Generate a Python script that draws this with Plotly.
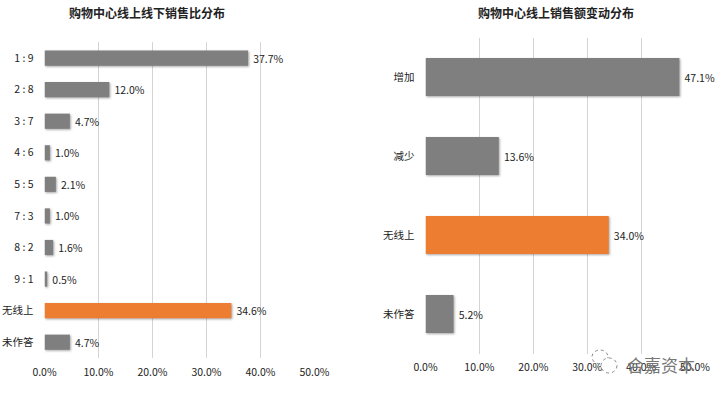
import plotly.graph_objects as go

FONT = "Noto Sans CJK SC, Open Sans, sans-serif"
GREY = "#7f7f7f"
ORANGE = "#ed7d31"
GRID = "#d4d4d4"
W, H = 720, 395

left_title = "购物中心线上线下销售比分布"
left_cats = ["1 : 9", "2 : 8", "3 : 7", "4 : 6", "5 : 5", "7 : 3", "8 : 2", "9 : 1", "无线上", "未作答"]
left_vals = [37.7, 12.0, 4.7, 1.0, 2.1, 1.0, 1.6, 0.5, 34.6, 4.7]
left_colors = [GREY] * 8 + [ORANGE, GREY]

right_title = "购物中心线上销售额变动分布"
right_cats = ["增加", "减少", "无线上", "未作答"]
right_vals = [47.1, 13.6, 34.0, 5.2]
right_colors = [GREY, GREY, ORANGE, GREY]

ticks = [0, 10, 20, 30, 40, 50]
tick_labels = ["0.0%", "10.0%", "20.0%", "30.0%", "40.0%", "50.0%"]
watermark = "合嘉资本"

fig = go.Figure()


def add(cats, vals, colors, xa, ya, width):
    fig.add_trace(go.Bar(
        y=cats, x=vals, orientation="h", xaxis=xa, yaxis=ya, width=width,
        marker=dict(color=colors, line=dict(width=0)),
        text=[f"\u2009{v:.1f}%" for v in vals], textposition="outside", cliponaxis=False,
        textfont=dict(size=10.5, color="#222222", family=FONT),
        showlegend=False,
    ))


add(left_cats, left_vals, left_colors, "x", "y", 0.48)
add(right_cats, right_vals, right_colors, "x2", "y2", 0.48)

xcommon = dict(range=[0, 50], tickvals=ticks, ticktext=tick_labels, showgrid=True, gridcolor=GRID,
               gridwidth=1, zeroline=False, showline=False, ticks="", automargin=False,
               ticklabelstandoff=6,
               tickfont=dict(size=10.5, color="#222222", family=FONT))
ycommon = dict(autorange="reversed", type="category", showgrid=False, zeroline=False,
               showline=False, ticks="", automargin=False, ticklabelstandoff=10,
               tickfont=dict(size=10.5, color="#222222", family=FONT))


def px(a, b):
    return [a / W, b / W]


def py(top, bottom):
    return [1 - bottom / H, 1 - top / H]


def note(text, x, y, size, color):
    return dict(text=text, x=x / W, y=1 - y / H, xref="paper", yref="paper", xanchor="center",
                yanchor="middle", showarrow=False, font=dict(size=size, color=color, family=FONT))


fig.update_layout(
    width=W, height=H, autosize=False, margin=dict(l=0, r=0, t=0, b=0),
    paper_bgcolor="white", plot_bgcolor="white", bargap=0.5,
    xaxis=dict(domain=px(44.5, 314.5), anchor="y", **xcommon),
    yaxis=dict(domain=py(42.3, 358), anchor="x", **ycommon),
    xaxis2=dict(domain=px(425.5, 695), anchor="y2", **xcommon),
    yaxis2=dict(domain=py(37.5, 353.5), anchor="x2", **ycommon),
    annotations=[
        note(f"<b>{left_title}</b>", 147, 12, 12, "#222222"),
        note(f"<b>{right_title}</b>", 556, 12, 12, "#222222"),
        note(watermark, 661, 364, 17, "#777777"),
    ],
    shapes=[
        dict(type="circle", xref="paper", yref="paper", x0=592 / W, x1=608 / W,
             y0=1 - 364 / H, y1=1 - 350 / H, line=dict(color="#888888", width=1, dash="dot")),
        dict(type="circle", xref="paper", yref="paper", x0=601 / W, x1=617 / W,
             y0=1 - 373 / H, y1=1 - 358 / H, fillcolor="white",
             line=dict(color="#888888", width=1, dash="dot")),
    ],
)

fig.write_html(
    "out.html",
    config={"displayModeBar": False},
    post_script=(
        "document.body.style.margin='0';"
        "document.querySelectorAll('.bars .point path').forEach(function(p){"
        "p.style.filter='drop-shadow(1px 1px 1px rgba(0,0,0,0.35))';});"
    ),
)
